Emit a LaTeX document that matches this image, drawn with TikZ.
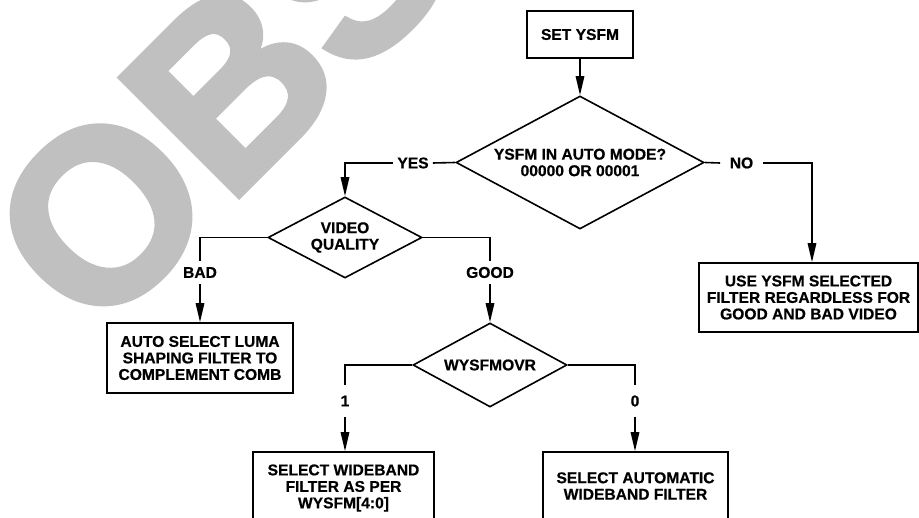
\documentclass[tikz,border=0pt]{standalone}
\usepackage{fontspec}
\setmainfont{Liberation Sans}[BoldFeatures={FakeBold=0.6}]
\newfontfamily\wmfont{Liberation Sans Bold}[FakeBold=2.5]
\usetikzlibrary{shapes.geometric,arrows.meta}
\definecolor{wm}{RGB}{192,192,192}
\tikzset{
  x=1pt,y=-1pt,
  every node/.style={font=\bfseries\fontsize{15.6}{16.5}\selectfont},
  line/.style={line width=1.6pt},
  arr/.style={line width=1.6pt,-{Triangle[length=19pt,width=8.5pt]}},
  boxnode/.style={draw,line width=1.6pt,align=center,inner sep=0pt},
  decision/.style={draw,line width=1.6pt,shape=diamond,align=center,inner sep=0pt},
  lbl/.style={inner xsep=4pt,inner ysep=6pt},
}
\begin{document}
\begin{tikzpicture}
\clip (0,0) rectangle (919,518);
\useasboundingbox (0,0) rectangle (919,518);
% watermark
\node[text=wm,anchor=base west,rotate=45,inner sep=0pt,
      font=\wmfont\fontsize{243}{243}\selectfont] (wmark) at (93.8,341) {OBSOLETE};
% boxes
\node[boxnode,minimum width=106,minimum height=47] (set) at (580,34.5) {SET YSFM};
\node[decision,minimum width=248,minimum height=133,aspect=1.86] (d1) at (580,162.5)
  {YSFM IN AUTO MODE?\\00000 OR 00001};
\node[decision,minimum width=154,minimum height=81,aspect=1.9] (d2) at (345,237.5)
  {VIDEO\\QUALITY};
\node[boxnode,minimum width=219,minimum height=69] (use) at (808.5,297.5)
  {USE YSFM SELECTED\\FILTER REGARDLESS FOR\\GOOD AND BAD VIDEO};
\node[boxnode,minimum width=186,minimum height=70] (bad) at (200,358)
  {AUTO SELECT LUMA\\SHAPING FILTER TO\\COMPLEMENT COMB};
\node[decision,minimum width=154,minimum height=84,aspect=1.83] (d3) at (490,365)
  {WYSFMOVR};
\node[boxnode,minimum width=181,minimum height=72] (wide) at (343.5,488)
  {SELECT WIDEBAND\\FILTER AS PER\\WYSFM[4:0]};
\node[boxnode,minimum width=185,minimum height=68] (auto) at (635.5,486)
  {SELECT AUTOMATIC\\WIDEBAND FILTER};
% labels
\node[lbl] (yes) at (413,163) {YES};
\node[lbl,inner xsep=9.5pt] (no) at (741.5,163) {NO};
\node[lbl] (badl) at (200,272.5) {BAD};
\node[lbl] (goodl) at (490,272.5) {GOOD};
\node[lbl,inner ysep=10pt] (one) at (345,401) {1};
\node[lbl,inner ysep=10pt] (zero) at (635,401) {0};
% connectors
\draw[arr] (set.south) -- (d1.north);
\draw[line] (d1.west) -- (yes.east);
\draw[arr] (yes.west) -| (d2.north);
\draw[line] (d1.east) -- (no.west);
\draw[arr] (no.east) -| ([xshift=3.5pt]use.north);
\draw[line] (d2.west) -| (badl.north);
\draw[arr] (badl.south) -- (badl.south |- bad.north);
\draw[line] (d2.east) -| (goodl.north);
\draw[arr] (goodl.south) -- (d3.north);
\draw[line] (d3.west) -| (one.north);
\draw[arr] (one.south) -- (one.south |- wide.north);
\draw[line] (d3.east) -| (zero.north);
\draw[arr] (zero.south) -- (zero.south |- auto.north);
\end{tikzpicture}
\end{document}
